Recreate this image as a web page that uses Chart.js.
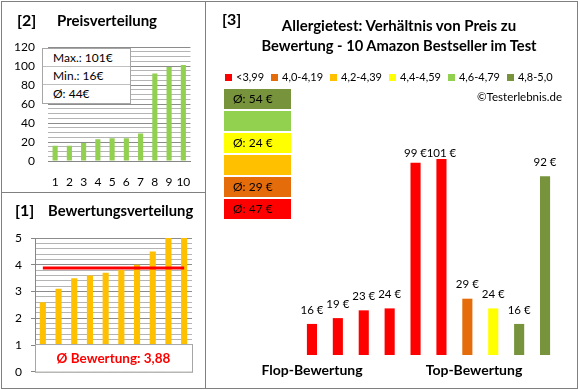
<!DOCTYPE html>
<html><head><meta charset="utf-8">
<script src="https://cdn.jsdelivr.net/npm/chart.js@4/dist/chart.umd.min.js"></script>
<style>
html,body{margin:0;padding:0;background:#fff;}
body{width:580px;height:390px;position:relative;overflow:hidden;font-family:Lato,"Open Sans",sans-serif;color:#000;}
.ln{position:absolute;background:#808080;}
canvas{position:absolute;}
.t{position:absolute;white-space:nowrap;line-height:20px;height:20px;}
.b{font-weight:bold;}
#stats{position:absolute;left:42px;top:48px;width:87px;height:54px;background:#fff;border:1px solid #A6A6A6;}
#stats div{height:17px;line-height:17px;padding-left:10px;font-size:12px;border-bottom:1px solid #BFBFBF;}
#stats div:last-child{border-bottom:none;}
.avgbox{position:absolute;left:224px;width:67px;height:20px;line-height:20px;font-size:12px;padding-left:9px;box-sizing:border-box;}
.sq{display:inline-block;width:7px;height:7px;margin-right:4px;vertical-align:0px;}
</style></head>
<body>
<!-- frames -->
<div class="ln" style="left:1px;top:1px;width:577px;height:1px"></div>
<div class="ln" style="left:1px;top:388px;width:577px;height:1px"></div>
<div class="ln" style="left:1px;top:1px;width:1px;height:388px"></div>
<div class="ln" style="left:577px;top:1px;width:1px;height:388px"></div>
<div class="ln" style="left:205px;top:1px;width:1px;height:388px"></div>
<div class="ln" style="left:1px;top:192px;width:204px;height:1px"></div>

<canvas id="c1" width="204" height="190" style="left:1px;top:2px"></canvas>
<canvas id="c2" width="204" height="195" style="left:1px;top:193px"></canvas>
<canvas id="c3" width="371" height="386" style="left:206px;top:2px"></canvas>

<div class="t b" style="left:17px;top:10px;font-size:16px">[2]</div>
<div class="t b" style="left:57px;top:10px;font-size:15px">Preisverteilung</div>
<div class="t b" style="left:15px;top:200px;font-size:16px">[1]</div>
<div class="t b" style="left:48px;top:200px;font-size:14.8px">Bewertungsverteilung</div>
<div class="t b" style="left:222px;top:9px;font-size:16px">[3]</div>
<div class="t b" style="left:199px;width:400px;text-align:center;top:15px;font-size:15px">Allergietest: Verhältnis von Preis zu</div>
<div class="t b" style="left:199px;width:400px;text-align:center;top:35px;font-size:14.7px">Bewertung - 10 Amazon Bestseller im Test</div>
<div id="legend" class="t" style="left:225px;top:67px;font-size:11px"></div>
<div class="t" style="left:400px;width:162px;text-align:right;top:87px;font-size:11.5px">©Testerlebnis.de</div>
<div class="t b" style="left:212px;width:200px;text-align:center;top:360px;font-size:14px">Flop-Bewertung</div>
<div class="t b" style="left:374px;width:200px;text-align:center;top:360px;font-size:14px">Top-Bewertung</div>
<div id="stats"></div>
<div id="avgs"></div>

<script>
// ---------- data ----------
const productNumbers = ['1','2','3','4','5','6','7','8','9','10'];
// products ordered from flop to top rating
const ratings = [2.6, 3.1, 3.5, 3.6, 3.7, 3.8, 4.0, 4.5, 5.0, 5.0];
const prices  = [16, 19, 23, 24, 99, 101, 29, 24, 16, 92];
// rating classes
const ratingClassLabels = ['<3,99','4,0-4,19','4,2-4,39','4,4-4,59','4,6-4,79','4,8-5,0'];
const ratingClassUpper  = [3.995, 4.195, 4.395, 4.595, 4.795, 5.001];
const ratingClassColors = ['#FF0000','#E46C0A','#FFC000','#FFFF00','#92D050','#77933C'];

// ---------- derived ----------
const priceDistribution = [...prices].sort((a,b)=>a-b);
const classOf = r => ratingClassUpper.findIndex(u => r < u);
const barColors = ratings.map(r => ratingClassColors[classOf(r)]);
const avgRating = ratings.reduce((a,b)=>a+b,0)/ratings.length;
const avgPrice = prices.reduce((a,b)=>a+b,0)/prices.length;

Chart.defaults.font.family = 'Lato, "Open Sans", sans-serif';
Chart.defaults.color = '#000';

// stats box
document.getElementById('stats').innerHTML =
  '<div>Max.: '+Math.max(...prices)+'€</div><div>Min.: '+Math.min(...prices)+'€</div><div>Ø: '+Math.round(avgPrice)+'€</div>';

// legend
document.getElementById('legend').innerHTML = ratingClassLabels.map((l,i)=>
  '<span style="margin-right:'+(i<5?7:0)+'px"><span class="sq" style="background:'+ratingClassColors[i]+'"></span>'+l+'</span>').join('');

// average boxes (top class first)
let ah = '';
for (let k = ratingClassLabels.length-1, row=0; k >= 0; k--, row++) {
  const ps = prices.filter((p,i)=>classOf(ratings[i])===k);
  const txt = ps.length ? 'Ø: '+Math.round(ps.reduce((a,b)=>a+b,0)/ps.length)+' €' : '';
  ah += '<div class="avgbox" style="top:'+(89+row*22)+'px;background:'+ratingClassColors[k]+'">'+txt+'</div>';
}
document.getElementById('avgs').innerHTML = ah;

const isInt = v => Math.abs(v-Math.round(v))<1e-6;

// ---------- chart 1: price distribution ----------
new Chart(document.getElementById('c1'), {
  type:'bar',
  data:{labels:productNumbers, datasets:[{data:priceDistribution, backgroundColor:'#92D050', barPercentage:0.36, categoryPercentage:1}]},
  options:{
    animation:false, responsive:false,
    layout:{padding:{top:45,right:14,left:0,bottom:0}},
    plugins:{legend:{display:false},tooltip:{enabled:false}},
    scales:{
      x:{grid:{display:false,drawTicks:false},border:{color:'#868686'},
         ticks:{padding:14,font:{size:12},color:'#000',maxRotation:0,autoSkip:false},
         afterFit(s){s.height=31;}},
      y:{min:0,max:120,
         ticks:{stepSize:5,autoSkip:false,padding:13,font:{size:12},color:'#000',
                callback:v=> v%20===0 ? v : ''},
         grid:{drawTicks:false,color:c=> (c.tick && c.tick.value%20===0)?'#8C8C8C':'#B4B4B4'},
         border:{display:false},
         afterFit(s){s.width=47;}}
    }
  }
});

// ---------- chart 2: rating distribution ----------
const boxPlugin = {
  id:'avgBox',
  afterDatasetsDraw(chart){
    const {ctx, chartArea:a, scales:{y}} = chart;
    const top = y.getPixelForValue(1)-1, bot = y.getPixelForValue(0);
    ctx.save();
    ctx.fillStyle='#fff';
    ctx.fillRect(a.left+0.5, top, a.right-a.left, bot-top);
    ctx.strokeStyle='#A6A6A6'; ctx.lineWidth=1;
    ctx.strokeRect(a.left+0.5, top+0.5, a.right-a.left, bot-top);
    ctx.fillStyle='#FF0000';
    ctx.font='bold 13.5px Lato, "Open Sans", sans-serif';
    ctx.textAlign='center'; ctx.textBaseline='middle';
    ctx.fillText('Ø Bewertung: '+avgRating.toFixed(2).replace('.',','), (a.left+a.right)/2, (top+bot)/2+1);
    ctx.restore();
  }
};
new Chart(document.getElementById('c2'), {
  type:'bar',
  data:{labels:productNumbers, datasets:[
    {type:'line', data:ratings.map(()=>avgRating), borderColor:'#FF0000', borderWidth:3, pointRadius:0, order:0},
    {data:ratings, backgroundColor:'#FFC000', barPercentage:0.39, categoryPercentage:1, order:1}
  ]},
  options:{
    animation:false, responsive:false,
    layout:{padding:{top:45,right:13,left:0,bottom:14}},
    plugins:{legend:{display:false},tooltip:{enabled:false}},
    scales:{
      x:{display:false},
      y:{min:0,max:5,
         ticks:{stepSize:0.2,autoSkip:false,padding:9,font:{size:12},color:'#000',
                callback:v=> isInt(v) ? Math.round(v) : ''},
         grid:{tickLength:4,color:c=> (c.tick && isInt(c.tick.value))?'#8C8C8C':'#B4B4B4',
               tickColor:c=> (c.tick && isInt(c.tick.value))?'#868686':'rgba(0,0,0,0)'},
         border:{display:true,color:'#868686'},
         afterFit(s){s.width=34;}}
    }
  },
  plugins:[boxPlugin]
});

// ---------- chart 3: price vs rating ----------
const valueLabels = {
  id:'valueLabels',
  afterDatasetsDraw(chart){
    const {ctx, chartArea:a} = chart;
    const meta = chart.getDatasetMeta(0);
    ctx.save();
    ctx.font='11.5px Lato, "Open Sans", sans-serif';
    ctx.fillStyle='#000'; ctx.textAlign='center'; ctx.textBaseline='middle';
    meta.data.forEach((bar,i)=>{
      const yy = Math.max(bar.y-14, a.top+31);
      ctx.fillText(chart.data.datasets[0].data[i]+' €', bar.x, yy);
    });
    ctx.restore();
  }
};
new Chart(document.getElementById('c3'), {
  type:'bar',
  data:{labels:productNumbers, datasets:[{data:prices, backgroundColor:barColors, barPercentage:0.39, categoryPercentage:1}]},
  options:{
    animation:false, responsive:false,
    layout:{padding:{top:120,right:19,left:93,bottom:33}},
    plugins:{legend:{display:false},tooltip:{enabled:false}},
    scales:{x:{display:false}, y:{display:false,min:0,max:120}}
  },
  plugins:[valueLabels]
});
</script>
</body></html>
